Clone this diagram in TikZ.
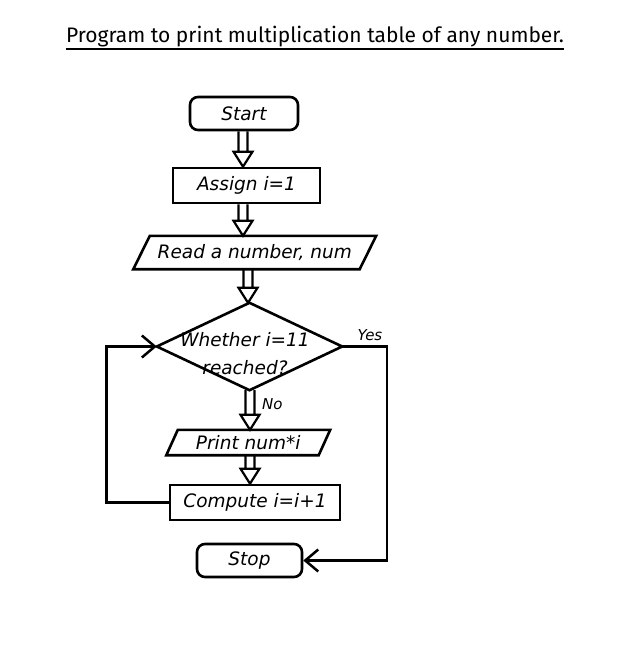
\documentclass[tikz,border=0pt]{standalone}
\usepackage{fontspec}
\setmainfont{Fira Sans}
\newfontfamily\handfont{DejaVu Sans}
\usetikzlibrary{arrows.meta,calc}
\tikzset{
  boxline/.style={draw=black, line width=2.6pt},
  txt/.style={font=\handfont\fontsize{18.5}{20}\selectfont\itshape},
  termbox/.style={boxline, txt, rounded corners=8pt, minimum height=33pt, inner sep=0pt},
  procbox/.style={boxline, txt, minimum height=35pt, inner sep=0pt},
  ghost/.style={txt, inner sep=0pt},
  lbl/.style={inner sep=0pt, font=\handfont\fontsize{15}{16}\selectfont\itshape},
  conn/.style={draw=black, line width=2.5pt, line join=miter},
  openarr/.style={conn, -{Straight Barb[length=13pt,width=22pt,line width=2.5pt]}},
  blk/.style={draw=black, line width=2.2pt, line join=miter}
}
\newcommand\blockarr[3]{%
  \draw[blk] let \p1=($(#1.south)+(#3,0)$), \p2=(#2.north) in
    (\x1-4.5pt,\y1) -- (\x1-4.5pt,\y2+15pt)
    (\x1+4.5pt,\y1) -- (\x1+4.5pt,\y2+15pt)
    (\x1-9.5pt,\y2+15pt) -- (\x1,\y2) -- (\x1+9.5pt,\y2+15pt) -- cycle;}
\begin{document}
\begin{tikzpicture}[x=1pt,y=-1pt]
\useasboundingbox (0,0) rectangle (629,650);
% title
\node[inner sep=0pt, font=\fontsize{21}{22}\selectfont, anchor=base] (title) at (315,43) {Program to print multiplication table of any number.};
\draw[line width=1.5pt] (title.base west) ++(0,6) coordinate (ul) -- (ul -| title.base east);
% nodes
\node[termbox, minimum width=108pt] (start) at (244,113.5) {Start};
\node[procbox, minimum width=147pt] (assign) at (246.5,185.5) {Assign i=1};
\node[ghost, minimum width=226pt, minimum height=33pt] (read) at (254.75,252.5) {Read a number, num};
\draw[boxline] ($(read.south west)+(-8.25,0)$) -- ($(read.north west)+(8.25,0)$) -- ($(read.north east)+(8.25,0)$) -- ($(read.south east)+(-8.25,0)$) -- cycle;
\node[ghost, minimum width=185pt, minimum height=87pt] (dec) at (249.5,346.5) {};
\draw[boxline] (dec.north) -- (dec.east) -- (dec.south) -- (dec.west) -- cycle;
\node[ghost, align=center, font=\handfont\fontsize{18.5}{28}\selectfont\itshape] (dectext) at (245,354) {Whether i=11\\reached?};
\node[ghost, minimum width=152pt, minimum height=25pt] (print) at (248.25,442.5) {Print num*i};
\draw[boxline] ($(print.south west)+(-5.75,0)$) -- ($(print.north west)+(5.75,0)$) -- ($(print.north east)+(5.75,0)$) -- ($(print.south east)+(-5.75,0)$) -- cycle;
\node[procbox, minimum width=170pt] (comp) at (255,502.5) {Compute i=i+1};
\node[termbox, minimum width=105pt] (stop) at (249.5,560.5) {Stop};
% block arrows
\blockarr{start}{assign}{-1}
\blockarr{assign}{read}{-3.5}
\blockarr{read}{dec}{-6.75}
\blockarr{dec}{print}{0.5}
\blockarr{print}{comp}{1.75}
% labels
\node[lbl, anchor=west] (no) at (262,404) {No};
\node[lbl] (yes) at (370,335) {Yes};
% connectors
\draw[openarr] (dec.east) -- ++(45,0) |- (stop.east);
\draw[openarr] (comp.west) -- ++(-62,0) |- (dec.west);
\end{tikzpicture}
\end{document}
